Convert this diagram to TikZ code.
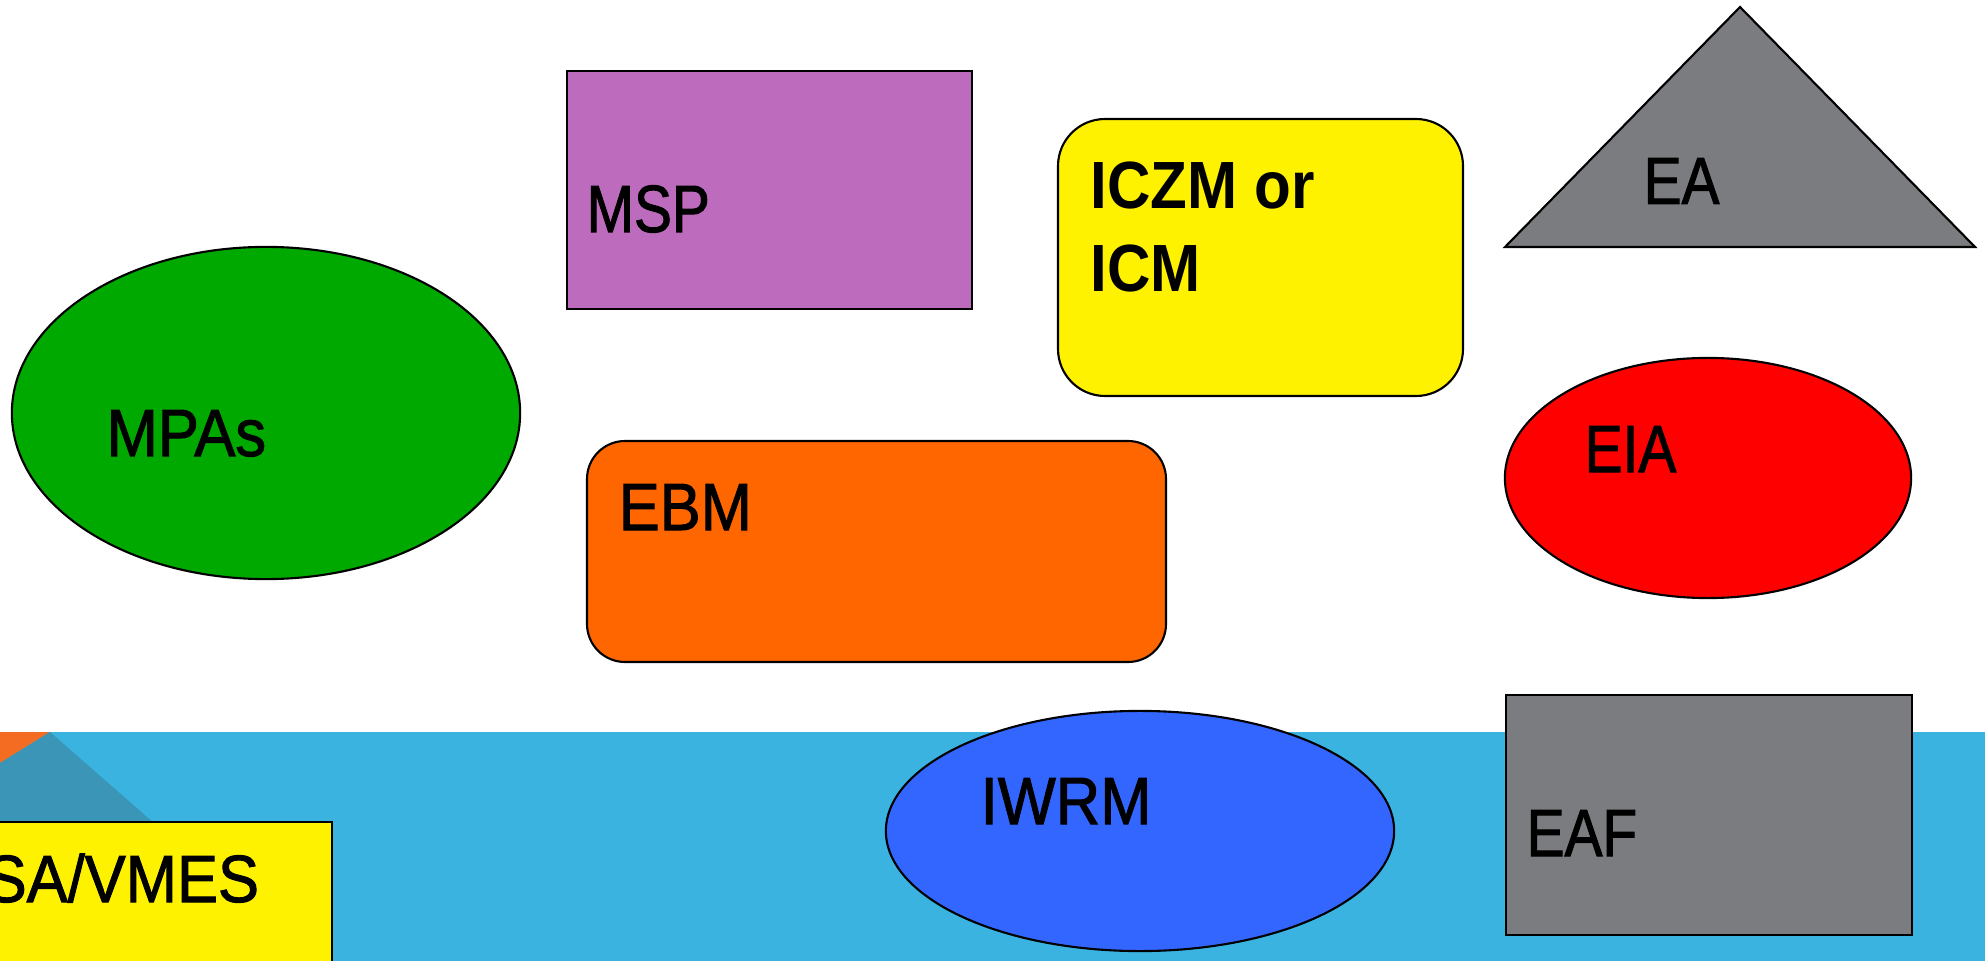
\documentclass[tikz,border=0pt]{standalone}
\usepackage{fontspec}
\setmainfont{Liberation Sans}[FakeStretch=0.92, FakeBold=1.5]
\newfontfamily\narrowsans{Liberation Sans}[FakeStretch=0.85, FakeBold=1.5]
\newfontfamily\headsans{Liberation Sans}[FakeStretch=0.90]

\definecolor{sea}{HTML}{3BB3E0}
\definecolor{seashade}{HTML}{3A95B6}
\definecolor{cornerorange}{HTML}{F36C21}
\definecolor{mpagreen}{HTML}{00A900}
\definecolor{msppurple}{HTML}{BC6BBD}
\definecolor{ebmorange}{HTML}{FF6600}
\definecolor{iwrmblue}{HTML}{3366FF}
\definecolor{eagray}{HTML}{7B7C80}

\tikzset{
  box/.style={draw=black, line width=0.6pt},
  lbl/.style={anchor=base west, inner sep=0pt, font=\fontsize{19}{23.6}\selectfont},
  nlbl/.style={lbl, font=\fontsize{19}{23.6}\selectfont\narrowsans},
}

\begin{document}
\begin{tikzpicture}[x=0.01cm, y=-0.01cm]
\useasboundingbox (0,0) rectangle (1985,961);
\clip (0,0) rectangle (1985,961);
% sea band
\fill[sea] (0,732) rectangle (1985,961);
\fill[cornerorange] (0,732) -- (50,732) -- (0,763) -- cycle;
\fill[seashade] (0,763) -- (50,732) -- (155,824) -- (0,824) -- cycle;

\coordinate (MPA) at (266,413);
\draw[box, fill=mpagreen] (MPA) ellipse [x radius=2.54cm, y radius=1.66cm];
\node[lbl] (mpas) at (106,456) {MPAs};

\draw[box, fill=msppurple] (567,71) rectangle (972,309);
\node[nlbl] (msp) at (586,232) {MSP};

\draw[box, fill=yellow, rounded corners=0.47cm] (1058,119) rectangle (1463,396);
\node[lbl, anchor=north west, align=left, font=\fontsize{19}{23.6}\selectfont\headsans\bfseries]
  (iczm) at (1090,161) {ICZM or\\ICM};

\coordinate (EA1) at (1740,7);
\coordinate (EA2) at (1505,247);
\coordinate (EA3) at (1975,247);
\draw[box, fill=eagray] (EA1) -- (EA2) -- (EA3) -- cycle;
\node[nlbl] (ea) at (1643,204) {EA};

\coordinate (EIA) at (1708,478);
\draw[box, fill=red] (EIA) ellipse [x radius=2.03cm, y radius=1.2cm];
\node[nlbl] (eia) at (1584,472) {EIA};

\draw[box, fill=ebmorange, rounded corners=0.38cm] (587,441) rectangle (1166,662);
\node[lbl] (ebm) at (618,530) {EBM};

\coordinate (IWRM) at (1140,831);
\draw[box, fill=iwrmblue] (IWRM) ellipse [x radius=2.54cm, y radius=1.2cm];
\node[lbl] (iwrm) at (980,824) {IWRM};

\draw[box, fill=eagray] (1506,695) rectangle (1912,935);
\node[nlbl] (eaf) at (1526,856) {EAF};

\draw[box, fill=yellow] (-10,822) rectangle (332,975);
\node[lbl] (vmes) at (-15,902) {SA/VMES};
\end{tikzpicture}
\end{document}
